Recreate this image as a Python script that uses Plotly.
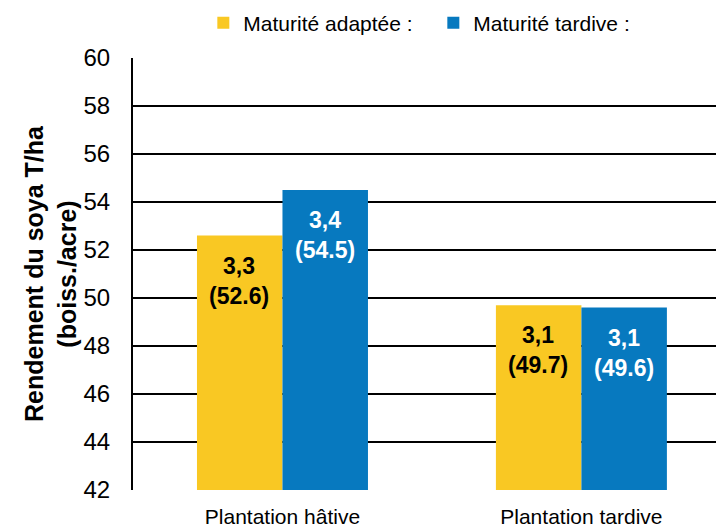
import plotly.graph_objects as go

categories = ["Plantation hâtive", "Plantation tardive"]
series_names = ["Maturité adaptée :", "Maturité tardive :"]
adaptee_bu = [52.6, 49.7]
tardive_bu = [54.5, 49.6]
adaptee_t = ["3,3", "3,1"]
tardive_t = ["3,4", "3,1"]
yticks = [42, 44, 46, 48, 50, 52, 54, 56, 58, 60]

FONT = "Liberation Sans, Arial, sans-serif"
YELLOW = "#F9C823"
BLUE = "#0779BF"

fig = go.Figure()
series = [
    (series_names[0], adaptee_bu, adaptee_t, YELLOW, "black", -43),
    (series_names[1], tardive_bu, tardive_t, BLUE, "white", 43),
]
for name, vals, tlabels, color, tcolor, dx in series:
    fig.add_trace(go.Bar(
        x=categories, y=vals, name=name,
        marker=dict(color=color, line=dict(width=0)),
    ))
    for cat, v, t in zip(categories, vals, tlabels):
        fig.add_annotation(
            x=cat, y=v, xref="x", yref="y", text=f"<b>{t}<br>({v})</b>",
            showarrow=False, yanchor="top", xanchor="center",
            xshift=dx, yshift=-15,
            font=dict(family=FONT, size=23, color=tcolor),
        )

fig.update_layout(
    width=716, height=519,
    margin=dict(l=125, r=0, t=50, b=37, autoexpand=False),
    paper_bgcolor="white", plot_bgcolor="white",
    barmode="group", bargap=0.428, bargroupgap=0,
    font=dict(family=FONT, color="black"),
    showlegend=True,
    legend=dict(orientation="h", x=0.119, xanchor="left", y=1.081, yanchor="middle",
                font=dict(family=FONT, size=21), itemwidth=30, entrywidth=185,
                traceorder="normal"),
    xaxis=dict(range=[-0.5, 1.477], showgrid=False, showline=False, ticks="",
               tickfont=dict(family=FONT, size=21), ticklabelstandoff=12),
    yaxis=dict(range=[42, 60], tickvals=yticks, showgrid=True, gridcolor="black",
               gridwidth=2, showline=True, linecolor="black", linewidth=2,
               zeroline=False, ticks="", tickfont=dict(family=FONT, size=24),
               ticklabelstandoff=16,
               title=dict(text="<b>Rendement du soya T/ha<br>(boiss./acre)</b>",
                          font=dict(family=FONT, size=25), standoff=0)),
)

fig.write_html("out.html")
